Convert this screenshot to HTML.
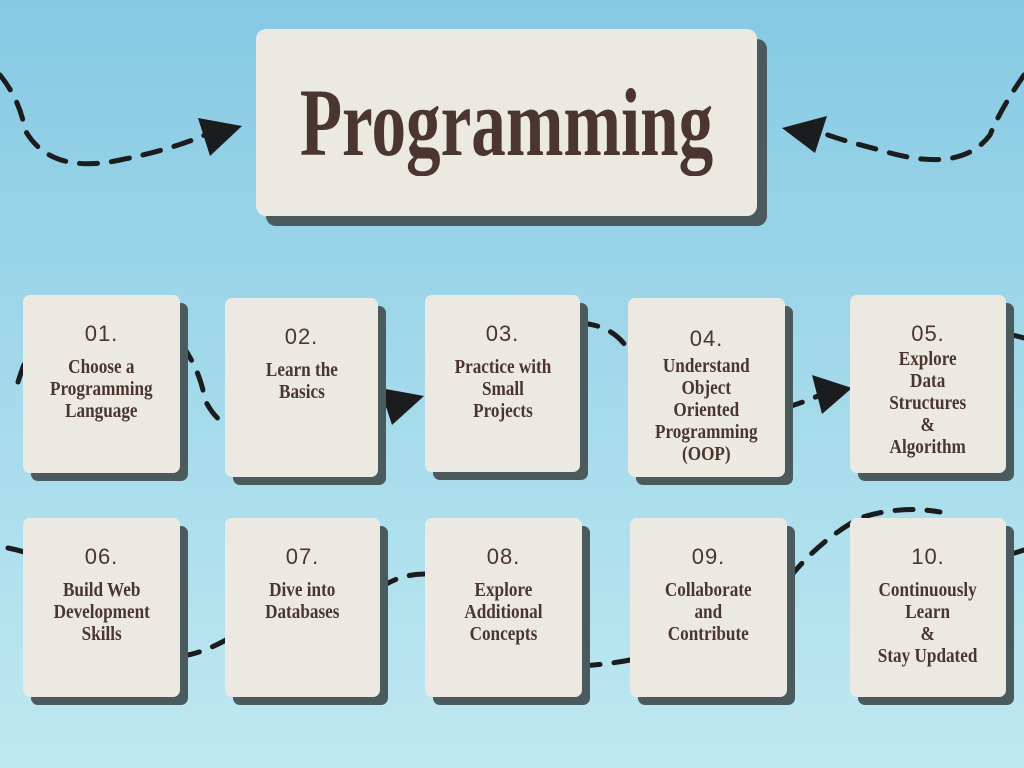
<!DOCTYPE html>
<html><head><meta charset="utf-8"><style>
html,body{margin:0;padding:0}
body{width:1024px;height:768px;overflow:hidden;position:relative;background:linear-gradient(#86c9e3,#a6dbeb 55%,#bfe8f1);font-family:"Liberation Serif",serif}
.card{position:absolute;background:#ece9e3;border-radius:7px;box-shadow:8px 8px 0 #4b5b5d;text-align:center;color:#4a3530}
.num{font-family:"Liberation Sans",sans-serif;font-weight:300;font-size:22px;margin-top:26px;color:#4a3530;letter-spacing:1px}
.t{font-weight:bold;font-size:19.5px;line-height:22px;margin-top:10px;display:inline-block;transform:scaleX(0.88);white-space:nowrap}
svg{position:absolute;left:0;top:0}
</style></head><body>
<svg width="1024" height="768">
<g fill="none" stroke="#1a1c1e" stroke-width="5" stroke-dasharray="18 14" stroke-linecap="round">
<path d="M0 75 Q20 100 25 130 Q50 175 120 160 Q170 150 205 135"/>
<path d="M1024 75 Q1000 110 990 135 Q960 175 880 150 Q840 140 820 132"/>
<path d="M18 382 Q25 360 30 350"/>
<path d="M182 345 Q200 370 205 400 Q215 420 228 425"/>
<path d="M380 408 Q395 400 400 398"/>
<path d="M580 323 Q610 325 625 345"/>
<path d="M785 408 Q810 400 820 395"/>
<path d="M1006 334 Q1018 336 1024 338"/>
<path d="M8 548 Q18 550 24 552"/>
<path d="M182 656 Q200 654 226 640"/>
<path d="M380 588 Q400 574 425 574"/>
<path d="M582 666 Q610 664 630 660"/>
<path d="M790 577 Q820 540 860 518 Q900 505 940 512"/>
<path d="M1008 555 Q1018 552 1024 550"/>
</g>
<polygon points="198,118 242,126 210,156" fill="#1a1c1e"/>
<polygon points="827,116 782,128 815,153" fill="#1a1c1e"/>
<polygon points="380,388 424,396 392,425" fill="#1a1c1e"/>
<polygon points="812,375 852,388 822,414" fill="#1a1c1e"/>
</svg>
<div class="card" style="left:256px;top:29px;width:501px;height:187px;box-shadow:10px 10px 0 #4b5b5d;border-radius:10px">
<div style="position:absolute;left:-150px;width:801px;top:0;font-weight:bold;font-size:96px;line-height:187px;transform:scaleX(0.72);color:#4a3530;white-space:nowrap;text-align:center">Programming</div></div>
<div class="card" style="left:23px;top:295px;width:157px;height:178px"><div class="num">01.</div><div class="t">Choose a<br>Programming<br>Language</div></div>
<div class="card" style="left:225px;top:298px;width:153px;height:179px"><div class="num">02.</div><div class="t">Learn the<br>Basics</div></div>
<div class="card" style="left:425px;top:295px;width:155px;height:177px"><div class="num">03.</div><div class="t">Practice with<br>Small<br>Projects</div></div>
<div class="card" style="left:628px;top:298px;width:157px;height:179px"><div class="num" style="margin-top:28px">04.</div><div class="t" style="margin-top:4px">Understand<br>Object<br>Oriented<br>Programming<br>(OOP)</div></div>
<div class="card" style="left:850px;top:295px;width:156px;height:178px"><div class="num" style="margin-top:26px">05.</div><div class="t" style="margin-top:2px">Explore<br>Data<br>Structures<br>&amp;<br>Algorithm</div></div>
<div class="card" style="left:23px;top:518px;width:157px;height:179px"><div class="num">06.</div><div class="t">Build Web<br>Development<br>Skills</div></div>
<div class="card" style="left:225px;top:518px;width:155px;height:179px"><div class="num">07.</div><div class="t">Dive into<br>Databases</div></div>
<div class="card" style="left:425px;top:518px;width:157px;height:179px"><div class="num">08.</div><div class="t">Explore<br>Additional<br>Concepts</div></div>
<div class="card" style="left:630px;top:518px;width:157px;height:179px"><div class="num">09.</div><div class="t">Collaborate<br>and<br>Contribute</div></div>
<div class="card" style="left:850px;top:518px;width:156px;height:179px"><div class="num">10.</div><div class="t">Continuously<br>Learn<br>&amp;<br>Stay Updated</div></div>
</body></html>
